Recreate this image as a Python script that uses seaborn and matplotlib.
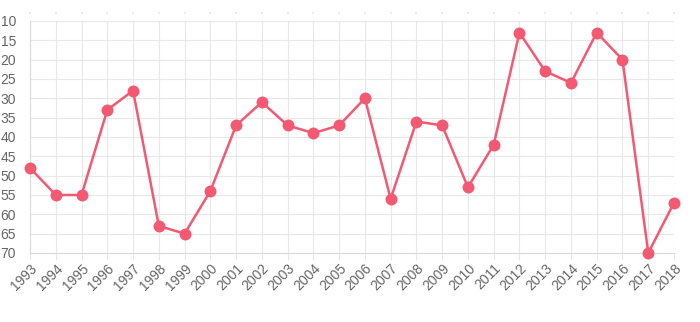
import matplotlib
matplotlib.use("Agg")
import matplotlib.pyplot as plt
import seaborn as sns
import pandas as pd

years = [str(y) for y in range(1993, 2019)]
values = [48, 55, 55, 33, 28, 63, 65, 54, 37, 31, 37, 39, 37, 30, 56, 36, 37, 53, 42, 13, 23, 26, 13, 20, 70, 57]
y_ticks = [10, 15, 20, 25, 30, 35, 40, 45, 50, 55, 60, 65, 70]

df = pd.DataFrame({"pos": range(len(years)), "value": values})

sns.set_theme(style="white")
plt.rcParams['font.family'] = ['Liberation Sans', 'DejaVu Sans']

fig = plt.figure(figsize=(7, 3.22), dpi=100)
ax = fig.add_axes([30/700, 1 - 253/322, (674 - 30)/700, (253 - 21)/322])

color = "#f35a72"
sns.lineplot(data=df, x="pos", y="value", ax=ax, color=color, linewidth=1.8,
             marker="o", markersize=8.6, markeredgewidth=0, markerfacecolor=color,
             zorder=3, clip_on=False)

ax.set_xlim(0, len(years) - 1)
ax.set_ylim(70, 10)
ax.set_xticks(range(len(years)))
ax.set_yticks(y_ticks)
ax.set_yticklabels([str(t) for t in y_ticks])
ax.set_xlabel("")
ax.set_ylabel("")

grid_c = "#e8e8e8"
ax.grid(True, color=grid_c, linewidth=0.8)
ax.set_axisbelow(True)
for s in ["top", "right"]:
    ax.spines[s].set_visible(False)
for s in ["left", "bottom"]:
    ax.spines[s].set_color("#d9d9d9")
    ax.spines[s].set_linewidth(0.8)

ax.tick_params(axis="x", bottom=True, length=5, width=0.8, color=grid_c,
               labelsize=10, labelcolor="#666666", pad=1)
ax.tick_params(axis="y", left=False, labelsize=10, labelcolor="#666666", pad=4)

# small dots above the top of the plot area
ax.spines["top"].set_position(("outward", 5))
ax.tick_params(axis="x", top=True, labeltop=False)
for t in ax.xaxis.get_major_ticks():
    t.tick2line.set_markersize(1.2)
    t.tick2line.set_color("#777777")
    t.tick2line.set_markeredgewidth(1.2)

ax.set_xticklabels(years)
for lbl in ax.get_xticklabels():
    lbl.set_rotation(45)
    lbl.set_ha("right")
    lbl.set_rotation_mode("anchor")

fig.savefig("out.png", dpi=100, facecolor="white")
